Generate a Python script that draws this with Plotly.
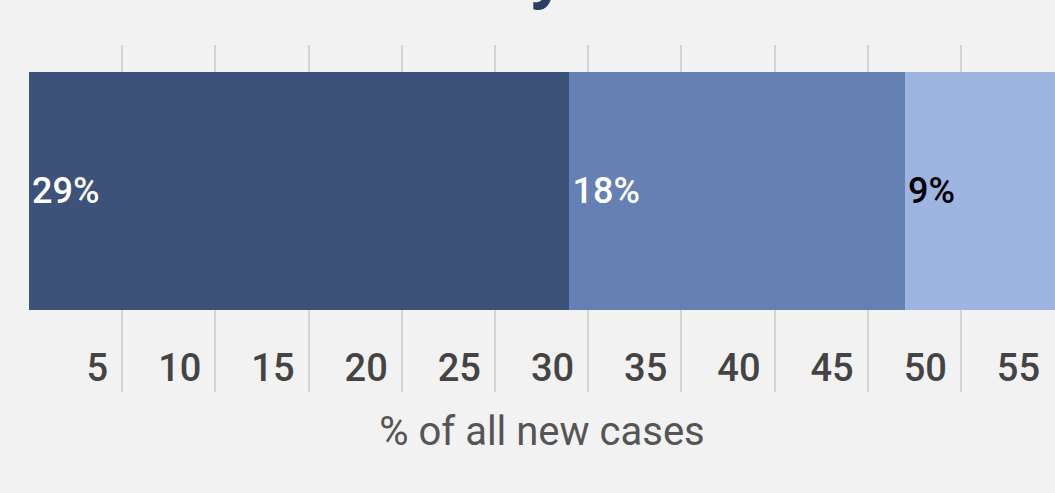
import plotly.graph_objects as go

# stacked shares (percent of all new cases)
segment_names = ["Group 1", "Group 2", "Group 3"]
segment_shares = [29, 18, 9]
segment_labels = ["29%", "18%", "9%"]
segment_colors = ["#3d5278", "#6580b3", "#9db5e0"]
label_colors = ["white", "white", "black"]

tick_vals = [0, 5, 10, 15, 20, 25, 30, 35, 40, 45, 50, 55]
tick_text = ["", "5", "10", "15", "20", "25", "30", "35", "40", "45", "50", "55"]

fig = go.Figure()

for name, share, label, color, tcolor in zip(segment_names, segment_shares, segment_labels,
                                             segment_colors, label_colors):
    fig.add_trace(go.Bar(
        x=[share],
        y=[0],
        orientation="h",
        width=1,
        name=name,
        marker=dict(color=color, line=dict(width=0)),
        text=[label],
        textposition="inside",
        insidetextanchor="start",
        textfont=dict(color=tcolor, size=36, family="Roboto", weight=500),
        showlegend=False,
    ))

# title sits mostly above the visible area, only a descender shows
fig.add_annotation(
    text="Share of cases by",
    xref="paper", yref="paper",
    x=0.527, y=1.086,
    xanchor="right", yanchor="bottom",
    showarrow=False,
    font=dict(size=80, color="#2b3e63", family="Roboto", weight=500),
)

fig.update_layout(
    barmode="stack",
    width=1055,
    height=493,
    paper_bgcolor="#f2f2f2",
    plot_bgcolor="#f2f2f2",
    margin=dict(l=29, r=0, t=45, b=101),
    font=dict(family="Roboto"),
    xaxis=dict(
        range=[0, 55.05],
        tickvals=tick_vals,
        ticktext=tick_text,
        ticklabelposition="inside left",
        ticklabelshift=-14,
        ticklabelstandoff=-3,
        tickfont=dict(size=38, color="#444444", weight=500),
        showgrid=True,
        gridcolor="#d4d4d4",
        gridwidth=2,
        zeroline=False,
        showline=False,
        ticks="",
        title=dict(text="% of all new cases", font=dict(size=40, color="#555555"), standoff=27),
    ),
    yaxis=dict(
        range=[-0.8445, 0.6134],
        showticklabels=False,
        showgrid=False,
        zeroline=False,
        fixedrange=True,
    ),
)

fig.write_html("out.html", config={"displayModeBar": False},
               post_script="document.body.style.margin='0';")
